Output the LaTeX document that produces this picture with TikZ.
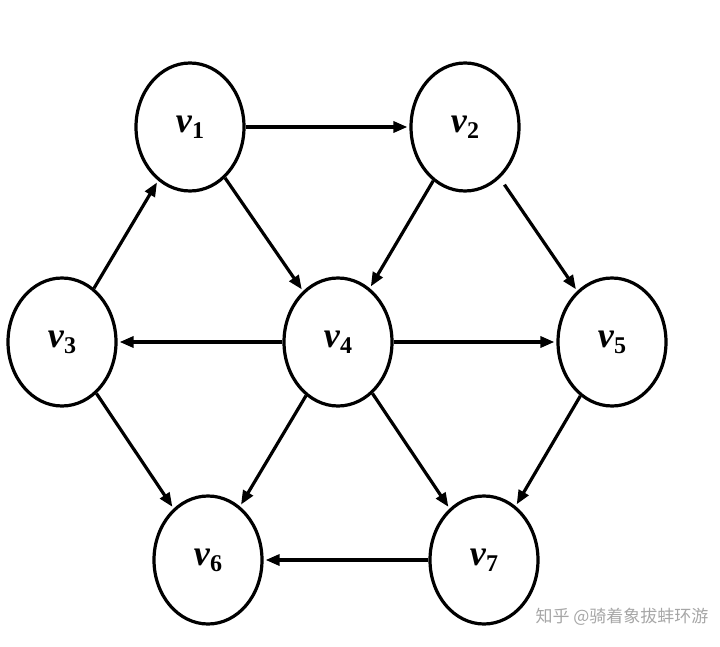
\documentclass[tikz,border=0pt]{standalone}
\usepackage{fontspec}
\setmainfont{Liberation Serif}
\newfontfamily\cjk{Noto Sans CJK SC}
\usetikzlibrary{shapes.geometric,arrows.meta}
\tikzset{
  vert/.style={ellipse,draw,line width=3.2pt,minimum width=108pt,minimum height=128pt,inner sep=0pt,font=\fontsize{36}{36}\selectfont\bfseries},
  edge/.style={line width=3.2pt,-{Triangle[length=14pt,width=11pt]},shorten >=2pt}
}
\newcommand{\vlab}[1]{\textit{v}\raisebox{-6pt}{\fontsize{24}{24}\selectfont #1}}
\begin{document}
\begin{tikzpicture}[x=1pt,y=-1pt]
\useasboundingbox (0,0) rectangle (720,647);
\node[vert] (v1) at (190,127) {\vlab{1}};
\node[vert] (v2) at (465,127) {\vlab{2}};
\node[vert] (v3) at (62,342) {\vlab{3}};
\node[vert] (v4) at (338,342) {\vlab{4}};
\node[vert] (v5) at (612,342) {\vlab{5}};
\node[vert] (v6) at (208,560) {\vlab{6}};
\node[vert] (v7) at (484,560) {\vlab{7}};
\draw[edge] (v1) -- (v2);
\draw[edge] (v1) -- (v4);
\draw[edge] (v2) -- (v4);
\draw[edge,shorten <=8pt] (v2) -- (v5);
\draw[edge] (v3) -- (v1);
\draw[edge] (v4) -- (v3);
\draw[edge] (v4) -- (v5);
\draw[edge] (v4) -- (v6);
\draw[edge] (v4) -- (v7);
\draw[edge] (v3) -- (v6);
\draw[edge] (v5) -- (v7);
\draw[edge] (v7) -- (v6);
\node[text=gray!70,font=\cjk\fontsize{17}{17}\selectfont,anchor=east] (wm) at (712,617) {知乎 @骑着象拔蚌环游};
\end{tikzpicture}
\end{document}
